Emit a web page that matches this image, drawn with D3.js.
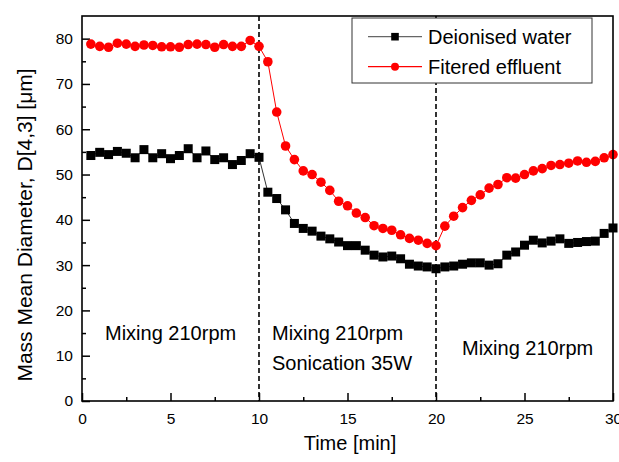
<!DOCTYPE html>
<html>
<head>
<meta charset="utf-8">
<script src="https://cdn.jsdelivr.net/npm/d3@7"></script>
<style>
  body { margin: 0; background: #fff; }
  svg { font-family: "Liberation Sans", Arial, sans-serif; }
</style>
</head>
<body>
<svg id="chart" width="619" height="462"></svg>
<script>
const times = [0.5, 1, 1.5, 2, 2.5, 3, 3.5, 4, 4.5, 5, 5.5, 6, 6.5, 7, 7.5, 8, 8.5, 9, 9.5, 10,
  10.5, 11, 11.5, 12, 12.5, 13, 13.5, 14, 14.5, 15, 15.5, 16, 16.5, 17, 17.5, 18, 18.5, 19, 19.5, 20,
  20.5, 21, 21.5, 22, 22.5, 23, 23.5, 24, 24.5, 25, 25.5, 26, 26.5, 27, 27.5, 28, 28.5, 29, 29.5, 30];

const deionised = [54.2, 54.9, 54.4, 55.1, 54.7, 53.7, 55.5, 53.7, 54.6, 53.5, 54.2, 55.7, 53.7, 55.2, 53.3, 53.7, 52.2, 53.1, 54.6, 53.8,
  46.1, 44.7, 42.2, 39.2, 38.1, 37.5, 36.4, 35.8, 35.1, 34.3, 34.3, 33.3, 32.2, 31.8, 32.0, 31.4, 30.2, 29.8, 29.6, 29.2,
  29.6, 29.8, 30.2, 30.5, 30.5, 30.0, 30.3, 32.2, 32.9, 34.4, 35.5, 34.9, 35.3, 35.8, 34.8, 35.0, 35.2, 35.3, 37.0, 38.2];

const effluent = [78.8, 78.3, 78.1, 79.0, 78.8, 78.3, 78.6, 78.5, 78.2, 78.2, 78.1, 78.7, 78.8, 78.7, 78.1, 78.7, 78.3, 78.3, 79.6, 78.3,
  74.9, 63.8, 56.3, 53.3, 50.8, 50.0, 48.3, 46.5, 44.1, 43.1, 41.5, 40.5, 38.7, 38.1, 37.7, 36.7, 35.9, 35.5, 34.8, 34.3,
  38.6, 40.8, 42.7, 44.3, 45.5, 47.0, 47.8, 49.3, 49.2, 50.0, 50.8, 51.3, 52.0, 52.2, 52.5, 53.0, 52.7, 52.9, 53.7, 54.4];

const xTicks = [0, 5, 10, 15, 20, 25, 30];
const yTicks = [0, 10, 20, 30, 40, 50, 60, 70, 80];
const phaseLines = [10, 20];
const seriesNames = ["Deionised water", "Fitered effluent"];

const svg = d3.select("#chart");
const m = { left: 82, right: 613, top: 16, bottom: 401 };

const x = d3.scaleLinear().domain([0, 30]).range([m.left, m.right]);
const y = d3.scaleLinear().domain([0, 85]).range([m.bottom, m.top]);

// minor ticks
const minorX = d3.range(0, 30.01, 2.5).filter(v => v % 5 !== 0);
const minorY = d3.range(0, 85, 5).filter(v => v % 10 !== 0);

const gx = svg.append("g").attr("transform", `translate(0,${m.bottom})`);
gx.call(d3.axisBottom(x).tickValues(xTicks).tickSizeInner(-8).tickSizeOuter(0).tickPadding(12));
gx.append("g").call(d3.axisBottom(x).tickValues(minorX).tickSize(-4).tickFormat(""));

const gy = svg.append("g").attr("transform", `translate(${m.left},0)`);
gy.call(d3.axisLeft(y).tickValues(yTicks).tickSizeInner(-8).tickSizeOuter(0).tickPadding(9));
gy.append("g").call(d3.axisLeft(y).tickValues(minorY).tickSize(-4).tickFormat(""));

svg.selectAll(".domain").remove();
svg.selectAll(".tick line").attr("stroke", "#000").attr("stroke-width", 1.5);
svg.selectAll(".tick text").attr("font-size", 15.5).attr("fill", "#000")
  .attr("font-family", "'Liberation Sans', Arial, sans-serif");
gx.selectAll(".tick text").attr("dy", "0.71em");

// dashed phase separators
svg.selectAll(".phase")
  .data(phaseLines)
  .enter().append("line")
  .attr("x1", d => x(d)).attr("x2", d => x(d))
  .attr("y1", m.top).attr("y2", m.bottom)
  .attr("stroke", "#000").attr("stroke-width", 1.6)
  .attr("stroke-dasharray", "5,3");

// phase annotations
const notes = svg.append("g").attr("font-size", 20).attr("fill", "#000");
notes.append("text").attr("x", 105).attr("y", 340).text("Mixing 210rpm");
notes.append("text").attr("x", 272).attr("y", 340).text("Mixing 210rpm");
notes.append("text").attr("x", 272).attr("y", 370).text("Sonication 35W");
notes.append("text").attr("x", 462).attr("y", 355).text("Mixing 210rpm");

const line = d3.line().x((d, i) => x(times[i])).y(d => y(d));

// deionised water
svg.append("path").datum(deionised)
  .attr("d", line).attr("fill", "none").attr("stroke", "#333").attr("stroke-width", 1);
svg.selectAll(".sq").data(deionised).enter().append("rect")
  .attr("x", (d, i) => x(times[i]) - 4.5).attr("y", d => y(d) - 4.5)
  .attr("width", 9).attr("height", 9).attr("fill", "#000");

// filtered effluent
svg.append("path").datum(effluent)
  .attr("d", line).attr("fill", "none").attr("stroke", "#f00").attr("stroke-width", 1);
svg.selectAll(".dot").data(effluent).enter().append("circle")
  .attr("cx", (d, i) => x(times[i])).attr("cy", d => y(d))
  .attr("r", 4.8).attr("fill", "#f00");

// frame
svg.append("rect").attr("x", m.left).attr("y", m.top)
  .attr("width", m.right - m.left).attr("height", m.bottom - m.top)
  .attr("fill", "none").attr("stroke", "#000").attr("stroke-width", 1.6);

// legend
const lg = svg.append("g");
lg.append("rect").attr("x", 352).attr("y", 18).attr("width", 240).attr("height", 65)
  .attr("fill", "#fff").attr("stroke", "#333").attr("stroke-width", 1);
const rows = [36.7, 66.7];
lg.append("line").attr("x1", 368).attr("x2", 422).attr("y1", rows[0]).attr("y2", rows[0])
  .attr("stroke", "#666").attr("stroke-width", 1.2);
lg.append("rect").attr("x", 395 - 3.8).attr("y", rows[0] - 3.8).attr("width", 7.6).attr("height", 7.6).attr("fill", "#000");
lg.append("line").attr("x1", 368).attr("x2", 422).attr("y1", rows[1]).attr("y2", rows[1])
  .attr("stroke", "#f00").attr("stroke-width", 1.2);
lg.append("circle").attr("cx", 395).attr("cy", rows[1]).attr("r", 4).attr("fill", "#f00");
lg.selectAll(".lt").data(seriesNames).enter().append("text")
  .attr("x", 428).attr("y", (d, i) => rows[i] + 7)
  .attr("font-size", 20).text(d => d);

// axis titles
svg.append("text").attr("x", 350).attr("y", 450).attr("text-anchor", "middle")
  .attr("font-size", 20).text("Time [min]");
svg.append("text").attr("transform", "translate(32,225) rotate(-90)")
  .attr("text-anchor", "middle").attr("font-size", 21)
  .text("Mass Mean Diameter, D[4,3] [\u03bcm]");
</script>
</body>
</html>
